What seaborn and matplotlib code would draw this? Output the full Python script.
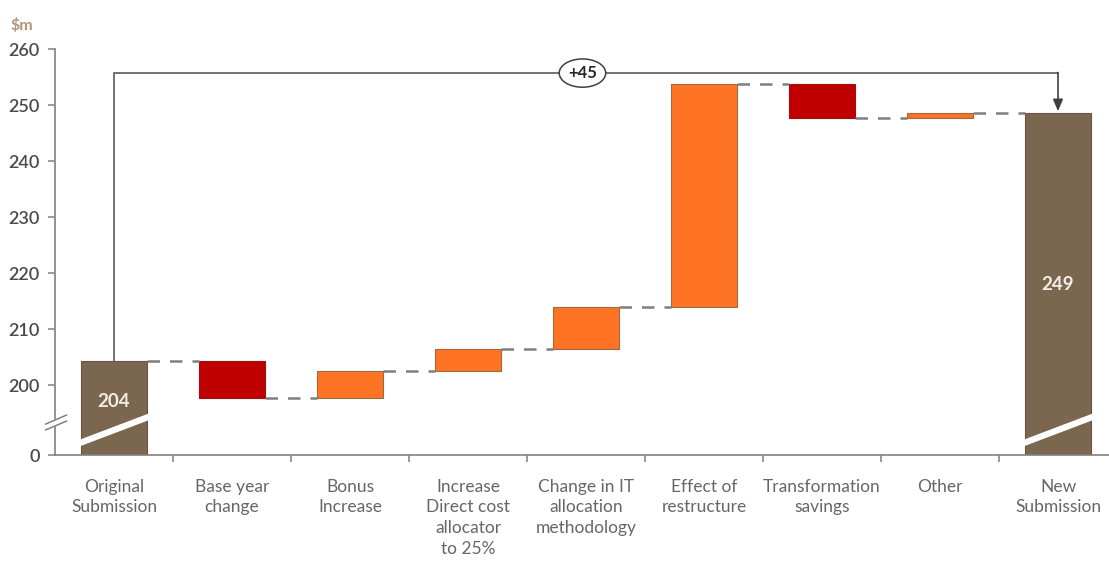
import numpy as np
import pandas as pd
import matplotlib
matplotlib.use("Agg")
import matplotlib.pyplot as plt
import matplotlib.transforms as mtransforms
import seaborn as sns

# ---- data ($m) ----
categories = ["Original\nSubmission", "Base year\nchange", "Bonus\nIncrease",
              "Increase\nDirect cost\nallocator\nto 25%", "Change in IT\nallocation\nmethodology",
              "Effect of\nrestructure", "Transformation\nsavings", "Other", "New\nSubmission"]
start_total = 204.3
changes = [-6.6, 4.8, 3.9, 7.5, 39.8, -6.1, 1.0]
y_ticks = [0, 200, 210, 220, 230, 240, 250, 260]

# running levels of the waterfall
levels = start_total + np.cumsum([0.0] + changes)
end_total = levels[-1]
bottoms = [0.0] + list(np.minimum(levels[:-1], levels[1:])) + [0.0]
heights = [start_total] + list(np.abs(changes)) + [end_total]
kinds = ["total"] + ["up" if c > 0 else "down" for c in changes] + ["total"]

fill = {"total": "#7B6650", "up": "#FF7424", "down": "#C00000"}
edge = {"total": "#6A5643", "up": "#9A6A40", "down": "#9A1010"}

df = pd.DataFrame({"category": categories, "height": heights})

sns.set_style("white")
plt.rcParams["font.family"] = ["Lato", "DejaVu Sans"]

fig = plt.figure(figsize=(11.09, 5.63), dpi=100)
ax = fig.add_axes([55 / 1109, 1 - 455 / 563, 1062 / 1109, 406 / 563])

bar_w = 0.56
sns.barplot(data=df, x="category", y="height", hue="category", order=categories,
            palette=[fill[k] for k in kinds], legend=False, width=bar_w,
            linewidth=0.8, saturation=1, ax=ax)

# lift each bar onto its waterfall base
for p in ax.patches:
    i = int(round(p.get_x() + p.get_width() / 2))
    p.set_y(bottoms[i])
    p.set_height(heights[i])
    p.set_edgecolor(edge[kinds[i]])

# broken value axis: 0..190 squeezed into a short stub below 190
BRK = 190.0
def fwd(v):
    v = np.asarray(v, dtype=float)
    return np.where(v < BRK, 187.5 + v * (BRK - 187.5) / BRK, v)

def inv(v):
    v = np.asarray(v, dtype=float)
    return np.where(v < BRK, (v - 187.5) * BRK / (BRK - 187.5), v)

ax.set_yscale("function", functions=(fwd, inv))
ax.set_ylim(0, 260)
ax.set_yticks(y_ticks)
ax.set_yticklabels([str(t) for t in y_ticks])
ax.yaxis.set_minor_locator(matplotlib.ticker.NullLocator())
ax.set_xlim(-0.5, 8.5)

# dashed connectors between consecutive bars
for i in range(len(categories) - 1):
    ax.plot([i + bar_w / 2, i + 1 - bar_w / 2], [levels[i], levels[i]],
            color="#7F7F7F", lw=1.8, dashes=(5, 4), zorder=1)

# overall change bracket
top_y = 255.7
ax.plot([0, 0, 8], [start_total, top_y, top_y], color="#595959", lw=1.2, zorder=3,
        solid_joinstyle="miter")
ax.annotate("", xy=(8, end_total + 0.3), xytext=(8, top_y + 0.1),
            arrowprops=dict(arrowstyle="-|>,head_length=0.7,head_width=0.3",
                            color="#404040", lw=1.2, shrinkA=0, shrinkB=0))
delta_total = int(round(end_total)) - int(round(start_total))
ax.text(3.97, top_y, f"{delta_total:+d}", ha="center", va="center", fontsize=12,
        fontweight="bold", color="#262626", zorder=4,
        bbox=dict(boxstyle="ellipse,pad=0.12", fc="white", ec="#404040", lw=1.1))

blend = mtransforms.blended_transform_factory(ax.transData, ax.transAxes)

# value labels on the totals
ax.text(0, 0.133, f"{round(start_total):.0f}", transform=blend,
        ha="center", va="center", color="#F2EEE8", fontsize=13.5, fontweight="bold")
ax.text(8, 0.421, f"{round(end_total):.0f}", transform=blend,
        ha="center", va="center", color="#F2EEE8", fontsize=13.5, fontweight="bold")

# break bands across the total bars
for xc in (0, 8):
    ax.plot([xc - 0.34, xc + 0.34], [0.024, 0.099], transform=blend, color="white",
            lw=4.5, solid_capstyle="butt", zorder=5, clip_on=False)

# break mark on the value axis
ax.fill([-0.009, 0.011, 0.011, -0.009], [0.0616, 0.0837, 0.0985, 0.076],
        transform=ax.transAxes, color="white", zorder=6, clip_on=False)
for y0, y1 in ((0.0616, 0.0837), (0.076, 0.0985)):
    ax.plot([-0.009, 0.011], [y0, y1], transform=ax.transAxes, color="#808080",
            lw=1.1, zorder=7, clip_on=False)

# spines & ticks
sns.despine(ax=ax)
for s in ("left", "bottom"):
    ax.spines[s].set_color("#808080")
    ax.spines[s].set_linewidth(1.2)
ax.tick_params(axis="y", direction="out", length=5, width=1.1, color="#808080",
               labelsize=13, labelcolor="#4A4A4A", pad=6, left=True)
for lab in ax.get_yticklabels():
    lab.set_fontweight("semibold")
ax.tick_params(axis="x", which="major", length=0, pad=17, labelsize=12.5,
               labelcolor="#666666")
ax.set_xticks(np.arange(len(categories)) + 0.5, minor=True)
ax.tick_params(axis="x", which="minor", direction="out", length=5, width=1.1,
               color="#808080", bottom=True)
for lab in ax.get_xticklabels():
    lab.set_linespacing(1.36)
    lab.set_va("top")
ax.set_xlabel("")
ax.set_ylabel("")

fig.text(10 / 1109, 1 - 25 / 563, "$m", color="#B39478", fontsize=11.5,
         fontweight="bold", va="center")

fig.savefig("out.png", dpi=100)
